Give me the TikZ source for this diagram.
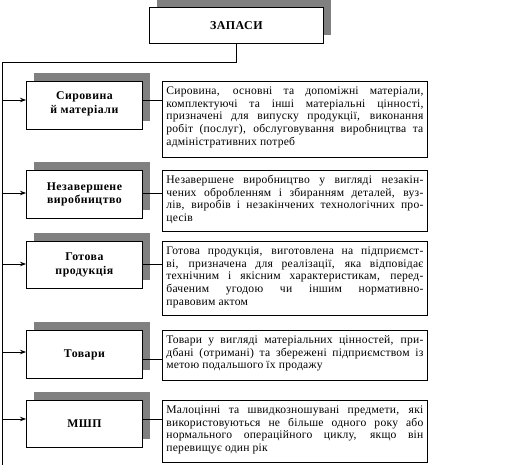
\documentclass[tikz,border=0pt]{standalone}
\usepackage{fontspec}
\setmainfont{Liberation Serif}
\newfontfamily\descfont[LetterSpace=2]{Liberation Serif}
\newfontfamily\catfont[LetterSpace=4]{Liberation Serif}
\usetikzlibrary{shadows,arrows.meta}
\definecolor{shgray}{HTML}{808080}
\newcommand\descpar[2]{\parbox[c][#1][t]{257pt}{\descfont\fontsize{11.6}{12.67}\selectfont\hyphenpenalty=10000\tolerance=10000\vspace*{4.2pt}\strut #2}}
\tikzset{
  conn/.style={draw=black, line width=0.8pt},
  arr/.style={conn, -{Stealth[length=6pt,width=4.5pt]}},
  shbox/.style={draw=black, line width=0.8pt, fill=white,
    drop shadow={shadow xshift=8pt, shadow yshift=8pt, fill=shgray, opacity=1}},
  catbox/.style={shbox, anchor=north west, minimum width=116pt, inner sep=0pt,
    align=center, font=\catfont\fontsize{11.8}{13.3}\selectfont\bfseries},
  descbox/.style={draw=black, line width=0.8pt, fill=white, anchor=north west,
    inner xsep=4pt, inner ysep=0pt},
  titlebox/.style={shbox, anchor=north west, minimum width=174pt, minimum height=36pt,
    inner sep=0pt, font=\catfont\fontsize{12}{14}\selectfont\bfseries}
}
\begin{document}
\begin{tikzpicture}[x=1pt,y=-1pt]
\useasboundingbox (0,0) rectangle (530,465);
\node[titlebox] (top) at (149,7) {ЗАПАСИ};

\node[catbox, minimum height=48pt] (l1) at (26,81) {\raisebox{5pt}{\shortstack{Сировина\\й матеріали}}};
\node[catbox, minimum height=48pt] (l2) at (26,170) {Незавершене\\виробництво};
\node[catbox, minimum height=47pt] (l3) at (26,241) {Готова\\продукція};
\node[catbox, minimum height=48pt] (l4) at (26,330) {Товари};
\node[catbox, minimum height=47pt] (l5) at (26,400) {МШП};

\node[descbox] (d1) at (162,81) {\descpar{76pt}{Сировина, основні та допоміжні матеріали,\linebreak
комплектуючі та інші матеріальні цінності,\linebreak
призначені для випуску продукції, виконання\linebreak
робіт (послуг), обслуговування виробництва та\linebreak
адміністративних потреб}};
\node[descbox] (d2) at (162,170) {\descpar{61pt}{Незавершене виробництво у вигляді незакін-\linebreak
чених обробленням і збиранням деталей, вуз-\linebreak
лів, виробів і незакінчених технологічних про-\linebreak
цесів}};
\node[descbox] (d3) at (162,241) {\descpar{74pt}{Готова продукція, виготовлена на підприємст-\linebreak
ві, призначена для реалізації, яка відповідає\linebreak
технічним і якісним характеристикам, перед-\linebreak
баченим угодою чи іншим нормативно-\linebreak
правовим актом}};
\node[descbox] (d4) at (162,330) {\descpar{50pt}{Товари у вигляді матеріальних цінностей, при-\linebreak
дбані (отримані) та збережені підприємством із\linebreak
метою подальшого їх продажу}};
\node[descbox] (d5) at (162,400) {\descpar{62pt}{Малоцінні та швидкозношувані предмети, які\linebreak
використовуються не більше одного року або\linebreak
нормального операційного циклу, якщо він\linebreak
перевищує один рік}};

\coordinate (sp) at (2,62);
\coordinate (spend) at (2,465);
\draw[conn] (top.south) |- (sp) -- (spend);

\coordinate (r1) at (0,100);
\coordinate (r2) at (0,193);
\coordinate (r3) at (0,264);
\coordinate (r4) at (0,352);
\coordinate (s4) at (0,359);
\coordinate (r5) at (0,419);

\draw[arr] (sp |- r1) -- (l1.west |- r1);
\draw[arr] (sp |- r2) -- (l2.west |- r2);
\draw[arr] (sp |- r3) -- (l3.west |- r3);
\draw[arr] (sp |- r4) -- (l4.west |- r4);
\draw[arr] (sp |- r5) -- (l5.west |- r5);

\draw[conn] (l1.east |- r1) -- (d1.west |- r1);
\draw[conn] (l2.east |- r2) -- (d2.west |- r2);
\draw[conn] (l3.east |- r3) -- (d3.west |- r3);
\draw[conn] (l4.east |- s4) -- (d4.west |- s4);
\draw[conn] (l5.east |- r5) -- (d5.west |- r5);
\end{tikzpicture}
\end{document}
